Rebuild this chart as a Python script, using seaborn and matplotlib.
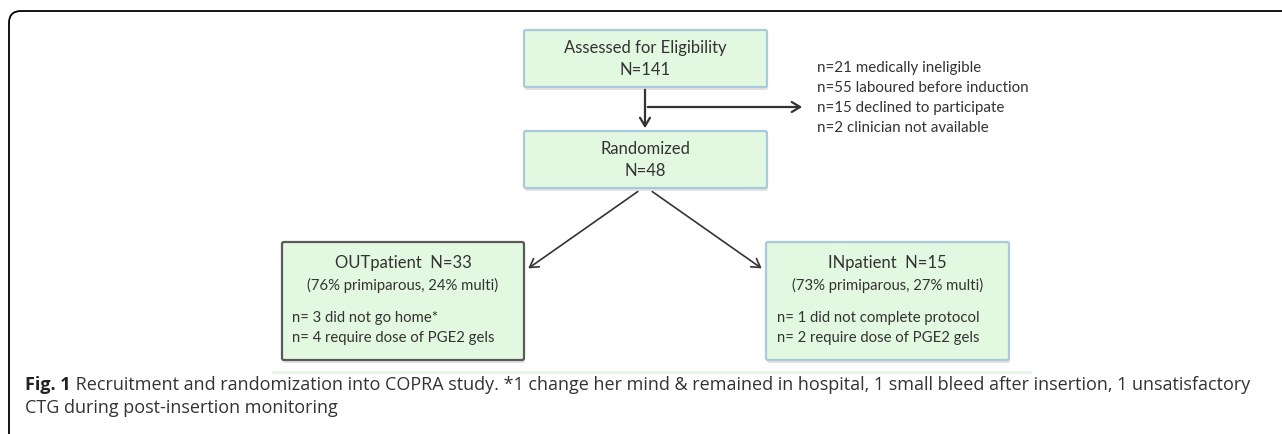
import matplotlib
matplotlib.use("Agg")
import matplotlib.pyplot as plt
import seaborn as sns
from matplotlib.patches import FancyBboxPatch

# ---------------- chart content ----------------
top_box_lines = ["Assessed for Eligibility", "N=141"]
rand_box_lines = ["Randomized", "N=48"]
excluded_lines = ["n=21 medically ineligible",
                  "n=55 laboured before induction",
                  "n=15 declined to participate",
                  "n=2 clinician not available"]
out_title = ["OUTpatient  N=33", "(76% primiparous, 24% multi)"]
out_notes = ["n= 3 did not go home*", "n= 4 require dose of PGE2 gels"]
in_title = ["INpatient  N=15", "(73% primiparous, 27% multi)"]
in_notes = ["n= 1 did not complete protocol", "n= 2 require dose of PGE2 gels"]
caption_bold = "Fig. 1"
caption_line1 = (" Recruitment and randomization into COPRA study. *1 change her mind & "
                 "remained in hospital, 1 small bleed after insertion, 1 unsatisfactory")
caption_line2 = "CTG during post-insertion monitoring"

fill_green = "#e3f8e0"
edge_blue = "#a9c9dc"
edge_dark = "#5a5a5a"
text_col = "#333333"

sns.set_theme(style="white")
plt.rcParams['font.family'] = ['Lato', 'DejaVu Sans']

fig = plt.figure(figsize=(12.82, 4.34), dpi=100)
ax = fig.add_axes([0, 0, 1, 1])
ax.set_xlim(0, 1282)
ax.set_ylim(434, 0)
ax.axis("off")


def draw_box(x0, y0, x1, y1, edge):
    # light shadow underneath
    sh = FancyBboxPatch((x0 + 1, y0 + 3), x1 - x0, y1 - y0,
                        boxstyle="round,pad=0,rounding_size=2",
                        fc="#d0d0d0", ec="none", alpha=0.6, zorder=1)
    ax.add_patch(sh)
    b = FancyBboxPatch((x0, y0), x1 - x0, y1 - y0,
                       boxstyle="round,pad=0,rounding_size=2",
                       fc=fill_green, ec=edge, lw=1.6, zorder=2)
    ax.add_patch(b)


# outer frame (only top and left visible)
frame = FancyBboxPatch((9, 11), 1400, 600, boxstyle="round,pad=0,rounding_size=12",
                       fc="none", ec="black", lw=1.3, zorder=0)
ax.add_patch(frame)

# boxes
draw_box(524, 30, 767, 87, edge_blue)
draw_box(524, 131, 767, 188, edge_blue)
draw_box(282, 242, 524, 360, edge_dark)
draw_box(766, 242, 1009, 360, edge_blue)

box_fs = 12
note_fs = 10.7
for txt, y in zip(top_box_lines, [48, 70]):
    ax.text(645.5, y, txt, ha="center", va="center", fontsize=box_fs, color=text_col, zorder=3)
for txt, y in zip(rand_box_lines, [149, 171]):
    ax.text(645.5, y, txt, ha="center", va="center", fontsize=box_fs, color=text_col, zorder=3)

for txt, y in zip(out_title, [263, 285]):
    ax.text(403, y, txt, ha="center", va="center",
            fontsize=box_fs if y == 263 else note_fs, color=text_col, zorder=3)
for txt, y in zip(out_notes, [318, 338]):
    ax.text(292, y, txt, ha="left", va="center", fontsize=note_fs, color=text_col, zorder=3)

for txt, y in zip(in_title, [263, 285]):
    ax.text(887.5, y, txt, ha="center", va="center",
            fontsize=box_fs if y == 263 else note_fs, color=text_col, zorder=3)
for txt, y in zip(in_notes, [318, 338]):
    ax.text(777, y, txt, ha="left", va="center", fontsize=note_fs, color=text_col, zorder=3)

for txt, y in zip(excluded_lines, [68, 88, 108, 128]):
    ax.text(817, y, txt, ha="left", va="center", fontsize=10.9, color=text_col, zorder=3)

# arrows
arrow_kw = dict(arrowstyle="->,head_length=0.5,head_width=0.3", color="#333333", lw=1.6)
ax.annotate("", xy=(645, 131), xytext=(645, 87), arrowprops=arrow_kw, zorder=3)
ax.annotate("", xy=(805, 107), xytext=(645, 107), arrowprops=arrow_kw, zorder=3)
ax.annotate("", xy=(526, 270), xytext=(640, 190), arrowprops=dict(arrow_kw, lw=1.2), zorder=3)
ax.annotate("", xy=(764, 270), xytext=(650, 190), arrowprops=dict(arrow_kw, lw=1.2), zorder=3)

# faint separator line
ax.plot([273, 1030], [372, 372], color="#e4f7e4", lw=2, zorder=1)

# caption
cap_fs = 13
cap_font = ['Open Sans', 'DejaVu Sans']
t_bold = ax.text(25, 385, caption_bold, ha="left", va="center", fontsize=cap_fs,
                 fontweight="bold", color="#222222", family=cap_font)
fig.canvas.draw()
bb = t_bold.get_window_extent(renderer=fig.canvas.get_renderer())
x_after = ax.transData.inverted().transform((bb.x1, bb.y0))[0]
ax.text(x_after, 385, caption_line1, ha="left", va="center", fontsize=cap_fs,
        color="#333333", family=cap_font)
ax.text(25, 408, caption_line2, ha="left", va="center", fontsize=cap_fs,
        color="#333333", family=cap_font)

fig.savefig("out.png", dpi=100)
